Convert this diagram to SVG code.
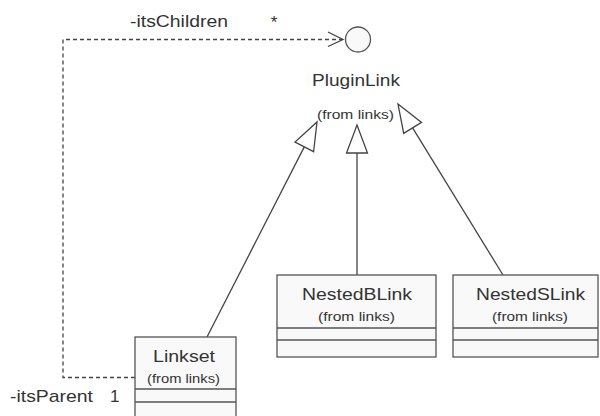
<svg xmlns="http://www.w3.org/2000/svg" width="600" height="416" viewBox="0 0 600 416">
<style>
text{font-family:"Liberation Sans",Arial,sans-serif;fill:#333}
.big{font-size:17px}
.sm{font-size:12px}
.box{fill:#f9f9f9;stroke:#555;stroke-width:1.3}
.div{stroke:#555;stroke-width:1.3}
.edge{fill:none;stroke:#444;stroke-width:1.3}
.dash{fill:none;stroke:#444;stroke-width:1.3;stroke-dasharray:4,3}
.tri{fill:#fff;stroke:#444;stroke-width:1.3}
</style>
<rect width="600" height="416" fill="#fff"/>
<g id="connectors">
<polyline class="dash" points="135,377.5 63,377.5 63,39.5 342,39.5"/>
<polyline class="edge" points="328,32 343,39.5 328,46.5"/>
<line class="edge" x1="207" y1="337" x2="304.3" y2="146.9"/>
<polygon class="tri" points="317,122 313.6,151.7 295,142.1"/>
<line class="edge" x1="357" y1="275" x2="357" y2="153"/>
<polygon class="tri" points="357,125 367.5,153 346.5,153"/>
<line class="edge" x1="503" y1="275" x2="412.6" y2="127.9"/>
<polygon class="tri" points="398,104 421.5,122.4 403.7,133.4"/>
<text class="big" x="130" y="27" textLength="98" lengthAdjust="spacingAndGlyphs">-itsChildren</text>
<text class="big" x="274" y="28" text-anchor="middle">*</text>
<text class="big" x="10" y="402" textLength="83" lengthAdjust="spacingAndGlyphs">-itsParent</text>
<text class="big" x="110" y="402">1</text>
</g>
<g id="PluginLink">
<circle cx="358" cy="39.5" r="12.5" fill="#f9f9f9" stroke="#555" stroke-width="1.3"/>
<text class="big" x="312" y="86" textLength="88" lengthAdjust="spacingAndGlyphs">PluginLink</text>
<text class="sm" x="317" y="119" textLength="77" lengthAdjust="spacingAndGlyphs">(from links)</text>
</g>
<g id="Linkset">
<rect class="box" x="135" y="337" width="101" height="90"/>
<line class="div" x1="135" y1="389" x2="236" y2="389"/>
<line class="div" x1="135" y1="402" x2="236" y2="402"/>
<text class="big" x="153" y="362" textLength="62" lengthAdjust="spacingAndGlyphs">Linkset</text>
<text class="sm" x="147" y="383" textLength="73" lengthAdjust="spacingAndGlyphs">(from links)</text>
</g>
<g id="NestedBLink">
<rect class="box" x="277" y="275" width="159" height="82"/>
<line class="div" x1="277" y1="328" x2="436" y2="328"/>
<line class="div" x1="277" y1="340" x2="436" y2="340"/>
<text class="big" x="302" y="300" textLength="110" lengthAdjust="spacingAndGlyphs">NestedBLink</text>
<text class="sm" x="318" y="321" textLength="77" lengthAdjust="spacingAndGlyphs">(from links)</text>
</g>
<g id="NestedSLink">
<rect class="box" x="453" y="275" width="145" height="82"/>
<line class="div" x1="453" y1="328" x2="598" y2="328"/>
<line class="div" x1="453" y1="340" x2="598" y2="340"/>
<text class="big" x="476" y="300" textLength="109" lengthAdjust="spacingAndGlyphs">NestedSLink</text>
<text class="sm" x="492" y="321" textLength="76" lengthAdjust="spacingAndGlyphs">(from links)</text>
</g>
</svg>
